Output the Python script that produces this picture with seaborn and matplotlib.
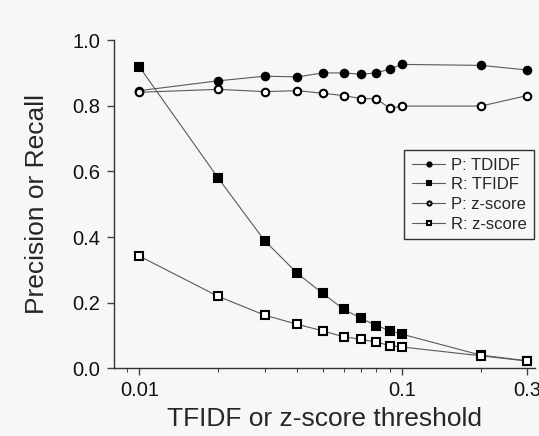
import matplotlib
matplotlib.use("Agg")
import matplotlib.pyplot as plt
from matplotlib.ticker import FixedLocator, FixedFormatter, NullFormatter
import seaborn as sns

# thresholds on the x axis (log scale)
thresholds = [0.01, 0.02, 0.03, 0.04, 0.05, 0.06, 0.07, 0.08, 0.09, 0.1, 0.2, 0.3]

# series
p_tfidf = [0.846, 0.876, 0.890, 0.888, 0.900, 0.900, 0.896, 0.900, 0.912, 0.926, 0.923, 0.909]
r_tfidf = [0.919, 0.579, 0.389, 0.289, 0.228, 0.180, 0.152, 0.130, 0.115, 0.104, 0.040, 0.023]
p_zscore = [0.841, 0.850, 0.843, 0.846, 0.838, 0.831, 0.822, 0.821, 0.792, 0.799, 0.799, 0.831]
r_zscore = [0.342, 0.219, 0.162, 0.134, 0.114, 0.096, 0.088, 0.080, 0.069, 0.065, 0.038, 0.022]

x_ticks = [0.01, 0.1, 0.3]
x_tick_labels = ["0.01", "0.1", "0.3"]

sns.set_style("ticks")
plt.rcParams['font.family'] = ['Liberation Sans', 'DejaVu Sans']

bg = '#f7f7f7'
fig = plt.figure(figsize=(5.39, 4.36), dpi=100, facecolor=bg)
ax = fig.add_axes([0.212, 0.1553, 0.781, 0.7527])
ax.set_facecolor(bg)

line_kw = dict(color='#5a5a5a', linewidth=0.8, markersize=5.4,
               markeredgecolor='black', markeredgewidth=1.5)

series = [
    ("P: TDIDF", p_tfidf, 'o', 'black', 2),
    ("R: TFIDF", r_tfidf, 's', 'black', 2),
    ("P: z-score", p_zscore, 'o', 'white', 3),
    ("R: z-score", r_zscore, 's', 'white', 3),
]
for label, vals, mk, fc, z in series:
    sns.lineplot(x=thresholds, y=vals, ax=ax, marker=mk, markerfacecolor=fc,
                 label=label, zorder=z, **line_kw)

ax.set_xscale('log')
ax.set_xlim(0.00803, 0.322)
ax.set_ylim(0, 1.0)
ax.xaxis.set_major_locator(FixedLocator(x_ticks))
ax.xaxis.set_major_formatter(FixedFormatter(x_tick_labels))
ax.xaxis.set_minor_formatter(NullFormatter())
ax.set_yticks([0.0, 0.2, 0.4, 0.6, 0.8, 1.0])
ax.set_yticklabels(["0.0", "0.2", "0.4", "0.6", "0.8", "1.0"])

ax.tick_params(axis='both', which='major', labelsize=14.5, length=5, width=1,
               color='#444444', labelcolor='#111111')
ax.tick_params(axis='y', which='major', pad=5)
ax.tick_params(axis='x', which='major', pad=4)
ax.tick_params(axis='x', which='minor', length=3, width=0.8, color='#444444')
for side in ['left', 'bottom']:
    ax.spines[side].set_color('#333333')
    ax.spines[side].set_linewidth(1.0)
sns.despine(ax=ax)

ax.set_xlabel("TFIDF or z-score threshold", fontsize=19, labelpad=5)
ax.set_ylabel("Precision or Recall", fontsize=19, labelpad=17)

leg = ax.legend(loc='upper right', bbox_to_anchor=(0.998, 0.665), fontsize=12,
                frameon=True, fancybox=False, markerscale=0.55, handlelength=2.0,
                borderpad=0.45, labelspacing=0.28, handletextpad=0.35,
                borderaxespad=0)
leg.get_frame().set_edgecolor('#333333')
leg.get_frame().set_linewidth(1.0)
leg.get_frame().set_facecolor(bg)
leg.get_frame().set_alpha(1.0)

fig.savefig("out.png", dpi=100, facecolor=bg)
